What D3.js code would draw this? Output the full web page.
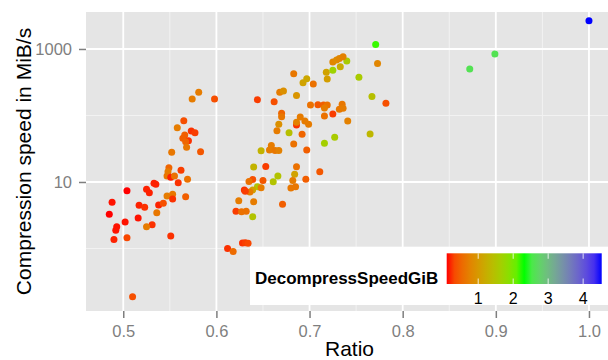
<!DOCTYPE html>
<html lang="en">
<head>
		<meta charset="utf-8">
		<title>  Compression ratio vs compression speed  </title>
		<script type="text/javascript" src="https://cdn.jsdelivr.net/npm/d3@7"></script>
		<style type="text/css">
			body { margin: 0; background: #fff; }
			text { font-family: "Liberation Sans", Arial, sans-serif; }
			.axis text { fill: #7f7f7f; font-size: 16.5px; }
			.axis line { stroke: #7f7f7f; stroke-width: 1.5; }
			.axis path { display: none; }
		</style>
</head>

<body>
	<div id="my_dataviz"></div>

	<script type="text/javascript">

		//// data: one entry per compressor setting
		var ratio = [
			0.581, 0.574, 0.598, 0.565, 0.558, 0.573, 0.577, 0.566, 0.564, 0.570,
			0.567, 0.568, 0.583, 0.552, 0.549, 0.562, 0.548, 0.547, 0.551, 0.555,
			0.559, 0.569, 0.533, 0.535, 0.504, 0.525, 0.528, 0.547, 0.553, 0.553,
			0.567, 0.488, 0.517, 0.523, 0.538, 0.543, 0.536, 0.485, 0.516, 0.502,
			0.493, 0.492, 0.531, 0.525, 0.490, 0.504, 0.551, 0.510,
			0.644, 0.662, 0.668, 0.672, 0.683, 0.686, 0.693, 0.697, 0.704, 0.701,
			0.709, 0.715, 0.719, 0.716, 0.670, 0.670, 0.690, 0.686, 0.686, 0.695,
			0.699, 0.667, 0.665, 0.678, 0.692, 0.683, 0.697, 0.659, 0.657, 0.663,
			0.667, 0.648, 0.725, 0.716, 0.735, 0.732, 0.736, 0.741, 0.718, 0.719,
			0.725, 0.733, 0.740, 0.725, 0.729, 0.732, 0.736, 0.753, 0.767, 0.773,
			0.771, 0.782, 0.765, 0.727, 0.716, 0.640, 0.653, 0.686, 0.684, 0.666,
			0.661, 0.682, 0.696, 0.711, 0.639, 0.635, 0.650, 0.644, 0.639, 0.636,
			0.648, 0.630, 0.631, 0.680, 0.685, 0.624, 0.640, 0.621, 0.627, 0.632,
			0.671, 0.639, 0.628, 0.631, 0.634, 0.612, 0.618,
			0.872, 0.899, 1.000];

		// compression speed, MiB/s
		var speed = [
			223, 177, 177, 83.6, 65.5, 58.5, 55.1, 50.9, 45.4, 41.8,
			40.4, 33.3, 28.6, 28.0, 16.4, 15.0, 14.3, 12.3, 11.8, 12.3,
			9.76, 11.0, 9.56, 9.23, 7.40, 7.77, 6.90, 6.16, 6.53, 5.55,
			6.01, 4.95, 4.47, 4.17, 4.51, 4.78, 3.45, 3.27, 2.88, 2.50,
			2.13, 1.88, 2.28, 2.13, 1.37, 1.45, 1.54, 0.188,
			173, 161, 223, 234, 425, 199, 311, 358, 298, 144,
			145, 144, 144, 130, 108, 95.9, 94.9, 72.0, 79.0, 82.7,
			73.8, 73.8, 59.1, 55.1, 52.2, 37.3, 30.3, 35.4, 30.3, 29.8,
			29.8, 29.6, 105, 98.3, 147, 124, 128, 82.7, 446, 354,
			478, 542, 660, 638, 683, 720, 766, 375, 193, 605,
			1169, 153, 52.7, 47.0, 38.2, 16.8, 17.1, 17.0, 13.1, 12.3,
			10.1, 10.5, 11.0, 14.3, 10.9, 10.2, 10.5, 8.50, 7.58, 7.07,
			8.21, 7.58, 7.25, 8.12, 8.50, 5.23, 5.06, 3.63, 3.58, 3.63,
			4.62, 3.00, 1.21, 1.22, 1.20, 1.00, 0.90,
			500, 841, 2665];

		// decompression speed, GiB/s
		var decompressSpeed = [
			0.7, 0.7, 0.35, 0.35, 0.7, 0.2, 0.25, 0.45, 0.45, 0.2,
			0.5, 0.65, 0.4, 0.65, 0.5, 0.25, 0.7, 0.65, 0.15, 0.6,
			0.2, 0.6, 0.15, 0.15, 0.1, 0.15, 0.15, 0.7, 0.65, 0.2,
			0.45, 0.12, 0.15, 0.2, 0.15, 0.35, 0.65, 0.1, 0.12, 0.12,
			0.12, 0.12, 0.2, 0.7, 0.15, 0.3, 0.2, 0.35,
			0.25, 0.35, 0.7, 0.9, 0.65, 0.95, 1.1, 1.15, 0.6, 0.6,
			0.4, 0.45, 0.6, 0.7, 0.5, 0.65, 0.7, 0.2, 0.75, 0.7,
			0.7, 0.9, 0.7, 1.45, 0.5, 0.6, 0.45, 0.7, 0.7, 0.65,
			0.75, 1.3, 0.25, 0.6, 0.65, 0.65, 0.7, 0.75, 1.1, 1.05,
			1.7, 1.2, 1.6, 0.8, 0.85, 0.8, 0.75, 1.6, 1.45, 0.8,
			2.25, 0.35, 1.35, 1.6, 1.65, 1.3, 0.25, 0.6, 1.1, 1.5,
			1.5, 0.7, 0.45, 0.4, 0.35, 0.6, 0.4, 1.5, 1.1, 0.7,
			0.7, 0.2, 0.25, 0.65, 0.65, 0.7, 0.7, 0.25, 0.6, 0.6,
			0.45, 1.5, 0.2, 0.25, 0.3, 0.2, 0.55,
			2.6, 2.6, 4.53];

		var xTicks = [0.5, 0.6, 0.7, 0.8, 0.9, 1.0];
		var xMinor = [0.55, 0.65, 0.75, 0.85, 0.95];
		var yTicks = [10, 1000];
		var yMinor = [1, 100];
		var legendTicks = [1, 2, 3, 4];

		var dataset = ratio.map(function(r, i) {
			return {ratio: r, speed: speed[i], ds: decompressSpeed[i]};
		});

		////Width and height
		var W = 608, H = 360;
		var margin = {top: 12, right: -5, bottom: 49, left: 86},
			w = W - margin.left - margin.right,
			h = H - margin.top - margin.bottom;

		var svg = d3.select("#my_dataviz")
					.append("svg")
					.attr("width", W)
					.attr("height", H);

		var g = svg.append("g")
				.attr("transform", "translate(" + margin.left + "," + margin.top + ")");

		///// scales //////
		var xScale = d3.scaleLinear()
						.domain([0.46, 1.0258])
						.range([0, w]);

		var yScale = d3.scaleLog()
						.domain([Math.pow(10, -0.94), Math.pow(10, 3.556)])
						.range([h, 0]);

		var dsMin = d3.min(decompressSpeed), dsMax = d3.max(decompressSpeed);
		var color = d3.scaleLinear()
						.domain([dsMin, (dsMin + dsMax) / 2, dsMax])
						.range(["#ff0000", "#00ff00", "#0000ff"])
						.interpolate(d3.interpolateLab);

		///// panel + grid
		g.append("rect")
			.attr("width", w)
			.attr("height", h)
			.attr("fill", "#e5e5e5");

		g.selectAll(".xminor").data(xMinor).enter().append("line")
			.attr("x1", function(d) { return xScale(d); })
			.attr("x2", function(d) { return xScale(d); })
			.attr("y1", 0).attr("y2", h)
			.attr("stroke", "#f2f2f2").attr("stroke-width", 1);

		g.selectAll(".yminor").data(yMinor).enter().append("line")
			.attr("y1", function(d) { return yScale(d); })
			.attr("y2", function(d) { return yScale(d); })
			.attr("x1", 0).attr("x2", w)
			.attr("stroke", "#f2f2f2").attr("stroke-width", 1);

		g.selectAll(".xmajor").data(xTicks).enter().append("line")
			.attr("x1", function(d) { return xScale(d); })
			.attr("x2", function(d) { return xScale(d); })
			.attr("y1", 0).attr("y2", h)
			.attr("stroke", "#fff").attr("stroke-width", 1.8);

		g.selectAll(".ymajor").data(yTicks).enter().append("line")
			.attr("y1", function(d) { return yScale(d); })
			.attr("y2", function(d) { return yScale(d); })
			.attr("x1", 0).attr("x2", w)
			.attr("stroke", "#fff").attr("stroke-width", 1.8);

		///// points
		g.append("clipPath").attr("id", "clip")
			.append("rect").attr("width", w).attr("height", h);

		g.append("g")
			.attr("clip-path", "url(#clip)")
			.selectAll("circle")
			.data(dataset)
			.enter()
			.append("circle")
			.attr("cx", function(d) { return xScale(d.ratio); })
			.attr("cy", function(d) { return yScale(d.speed); })
			.attr("r", 3.5)
			.attr("fill", function(d) { return color(d.ds); });

		///// axes
		g.append("g")
			.attr("class", "x axis")
			.attr("transform", "translate(0," + h + ")")
			.call(d3.axisBottom(xScale).tickValues(xTicks).tickSize(7).tickPadding(7)
				.tickFormat(d3.format(".1f")));

		g.append("g")
			.attr("class", "y axis")
			.call(d3.axisLeft(yScale).tickValues(yTicks).tickSize(7).tickPadding(7)
				.tickFormat(d3.format("d")));

		// text label for the x axis
		svg.append("text")
			.attr("x", margin.left + w / 2)
			.attr("y", 356)
			.attr("text-anchor", "middle")
			.style("font-size", "21px")
			.text("Ratio");

		// text label for the y axis
		svg.append("text")
			.attr("transform", "translate(31," + (margin.top + h / 2) + ") rotate(-90)")
			.attr("text-anchor", "middle")
			.style("font-size", "21px")
			.text("Compression speed in MiB/s");

		///// Legend (colour bar)
		var leg = svg.append("g").attr("class", "legend");

		leg.append("rect")
			.attr("x", 250).attr("y", 246.7)
			.attr("width", 365).attr("height", 58.3)
			.attr("fill", "#fff");

		leg.append("text")
			.attr("x", 255).attr("y", 284)
			.style("font-size", "17px")
			.style("font-weight", "bold")
			.text("DecompressSpeedGiB");

		var lx = d3.scaleLinear().domain([dsMin, dsMax]).range([446.7, 601.7]);
		var barTop = 253.3, barH = 30.7;

		var grad = svg.append("defs").append("linearGradient")
					.attr("id", "dsgrad")
					.attr("x1", "0%").attr("x2", "100%")
					.attr("y1", "0%").attr("y2", "0%");
		d3.range(0, 1.0001, 0.05).forEach(function(t) {
			grad.append("stop")
				.attr("offset", (t * 100) + "%")
				.attr("stop-color", color(dsMin + t * (dsMax - dsMin)));
		});

		leg.append("rect")
			.attr("x", lx(dsMin)).attr("y", barTop)
			.attr("width", lx(dsMax) - lx(dsMin)).attr("height", barH)
			.attr("fill", "url(#dsgrad)");

		leg.selectAll(".ltick-top").data(legendTicks).enter().append("line")
			.attr("x1", function(d) { return lx(d); })
			.attr("x2", function(d) { return lx(d); })
			.attr("y1", barTop).attr("y2", barTop + 5.5)
			.attr("stroke", "#fff").attr("stroke-opacity", 0.8);

		leg.selectAll(".ltick-bot").data(legendTicks).enter().append("line")
			.attr("x1", function(d) { return lx(d); })
			.attr("x2", function(d) { return lx(d); })
			.attr("y1", barTop + barH - 5.5).attr("y2", barTop + barH)
			.attr("stroke", "#fff").attr("stroke-opacity", 0.8);

		leg.selectAll(".llabel").data(legendTicks).enter().append("text")
			.attr("x", function(d) { return lx(d); })
			.attr("y", 304)
			.attr("text-anchor", "middle")
			.style("font-size", "16px")
			.text(function(d) { return d; });

	</script>

</body>
</html>
